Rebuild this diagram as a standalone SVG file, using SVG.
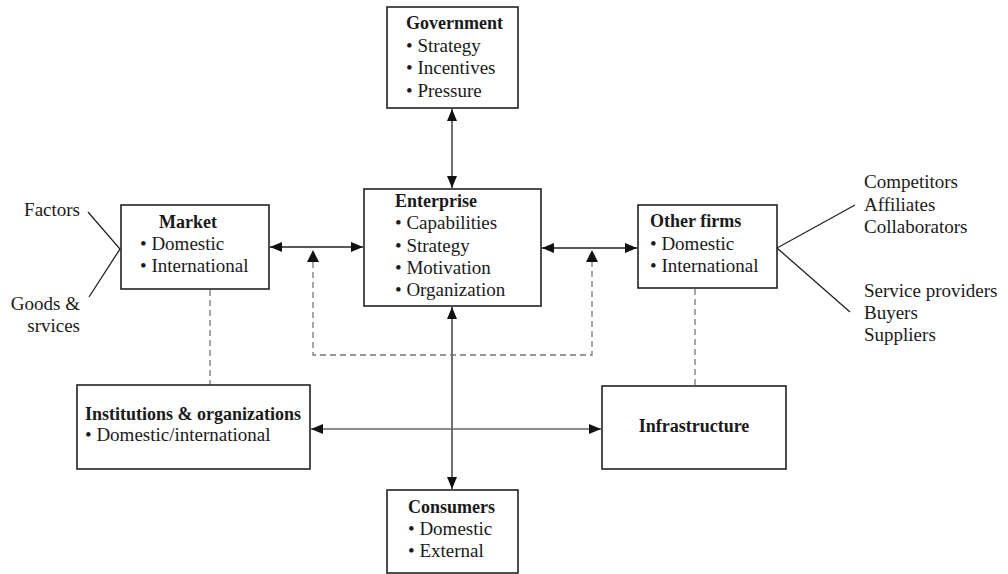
<svg xmlns="http://www.w3.org/2000/svg" width="1008" height="574" viewBox="0 0 1008 574">
<style>
.box{fill:#fff;stroke:#222;stroke-width:1.6}
text{font-family:"Liberation Serif","Times New Roman",serif;font-size:19px;fill:#1a1a1a}
.b{font-weight:bold;font-size:18px}
.ln{stroke:#222;stroke-width:1.3;fill:none}
.gl{stroke:#666;stroke-width:1.3;fill:none}
.ds{stroke:#777;stroke-width:1.3;fill:none;stroke-dasharray:6,4}
</style>
<defs>
<marker id="ah" viewBox="0 0 12 10" refX="12" refY="5" markerWidth="12" markerHeight="10" markerUnits="userSpaceOnUse" orient="auto-start-reverse">
<path d="M0,0 L12,5 L0,10 z" fill="#111"/>
</marker>
</defs>
<g id="connectors">
<line class="ln" x1="452" y1="109" x2="452" y2="188" marker-start="url(#ah)" marker-end="url(#ah)"/>
<line class="ln" x1="270" y1="247" x2="363" y2="247" marker-start="url(#ah)" marker-end="url(#ah)"/>
<line class="ln" x1="542" y1="248" x2="637" y2="248" marker-start="url(#ah)" marker-end="url(#ah)"/>
<line class="ln" x1="452" y1="307" x2="452" y2="489" marker-start="url(#ah)" marker-end="url(#ah)"/>
<line class="gl" x1="311" y1="429" x2="601" y2="429" marker-start="url(#ah)" marker-end="url(#ah)"/>
<polyline class="ds" points="313,262 313,355 592,355 592,262"/>
<path d="M307,262 L313,250 L319,262 z" fill="#111"/>
<path d="M586,262 L592,250 L598,262 z" fill="#111"/>
<line class="ds" x1="210" y1="290" x2="210" y2="385"/>
<line class="ds" x1="695" y1="289" x2="695" y2="386"/>
<polyline class="ln" points="88,212 120,249 89,297"/>
<polyline class="ln" points="855,205 777,248 850,312"/>
</g>
<g id="government">
<rect class="box" x="387" y="7" width="131" height="101"/>
<text class="b" x="406" y="29">Government</text>
<text x="406" y="52">• Strategy</text>
<text x="406" y="74">• Incentives</text>
<text x="406" y="97">• Pressure</text>
</g>
<g id="enterprise">
<rect class="box" x="364" y="189" width="177" height="117"/>
<text class="b" x="395" y="207">Enterprise</text>
<text x="395" y="229">• Capabilities</text>
<text x="395" y="252">• Strategy</text>
<text x="395" y="274">• Motivation</text>
<text x="395" y="296">• Organization</text>
</g>
<g id="market">
<rect class="box" x="121" y="205" width="148" height="84"/>
<text class="b" x="159" y="228">Market</text>
<text x="140" y="250">• Domestic</text>
<text x="140" y="272">• International</text>
</g>
<g id="other-firms">
<rect class="box" x="638" y="205" width="139" height="83"/>
<text class="b" x="650" y="227">Other firms</text>
<text x="650" y="250">• Domestic</text>
<text x="650" y="272">• International</text>
</g>
<g id="left-labels">
<text x="80" y="216" text-anchor="end">Factors</text>
<text x="80" y="310" text-anchor="end">Goods &amp;</text>
<text x="80" y="332" text-anchor="end">srvices</text>
</g>
<g id="right-labels">
<text x="864" y="188">Competitors</text>
<text x="864" y="211">Affiliates</text>
<text x="864" y="233">Collaborators</text>
<text x="864" y="297">Service providers</text>
<text x="864" y="319">Buyers</text>
<text x="864" y="341">Suppliers</text>
</g>
<g id="institutions">
<rect class="box" x="77" y="385" width="233" height="84"/>
<text class="b" x="85" y="420">Institutions &amp; organizations</text>
<text x="85" y="441">• Domestic/international</text>
</g>
<g id="infrastructure">
<rect class="box" x="602" y="386" width="184" height="83"/>
<text class="b" x="694" y="432" text-anchor="middle">Infrastructure</text>
</g>
<g id="consumers">
<rect class="box" x="387" y="490" width="131" height="83"/>
<text class="b" x="408" y="513">Consumers</text>
<text x="408" y="535">• Domestic</text>
<text x="408" y="557">• External</text>
</g>
</svg>
